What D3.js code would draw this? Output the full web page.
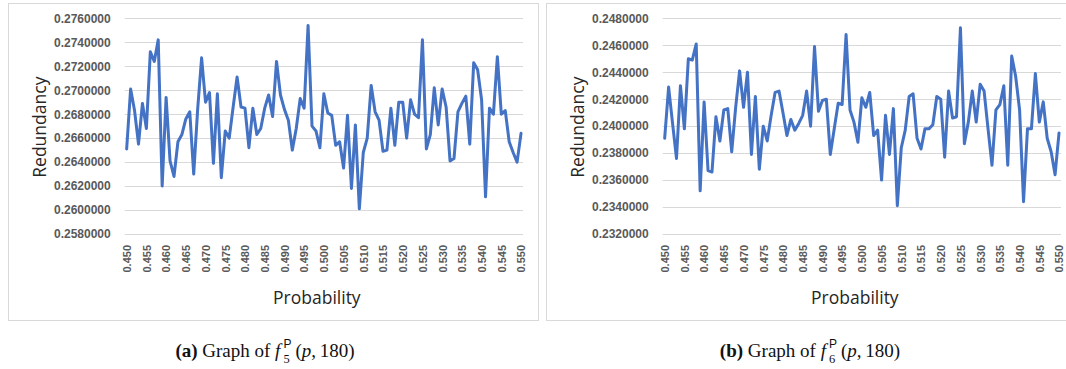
<!DOCTYPE html>
<html>
<head>
<meta charset="utf-8">
<script src="https://cdn.jsdelivr.net/npm/d3@7"></script>
<style>
  html, body { margin: 0; padding: 0; background: #fff; }
  #wrap { position: relative; width: 1066px; height: 369px; overflow: hidden; }
  svg { position: absolute; left: 0; top: 0; }
  .caption {
    position: absolute; top: 340px; width: 400px; text-align: center;
    font-family: "Liberation Serif", "DejaVu Serif", serif; font-size: 19px; line-height: 22px;
    color: #111; white-space: nowrap;
  }
  .caption b { font-weight: bold; }
  .ss { display: inline-block; position: relative; width: 10px; height: 13px; margin-left: 3px; margin-right: 2px; }
  .ss span { position: absolute; left: 0; font-size: 12.5px; line-height: 12px; }
  .ss .p { top: -6px; font-family: "Liberation Sans", "DejaVu Sans", sans-serif; font-size: 12px; }
  .ss .n { top: 9px; }
</style>
</head>
<body>
<div id="wrap">
  <svg id="chart" width="1066" height="369"></svg>
  <div class="caption" style="left:65px"><b>(a)</b> Graph of <i>f</i><span class="ss"><span class="p">P</span><span class="n">5</span></span>(<i>p</i>,&#8201;180)</div>
  <div class="caption" style="left:610px"><b>(b)</b> Graph of <i>f</i><span class="ss"><span class="p">P</span><span class="n">6</span></span>(<i>p</i>,&#8201;180)</div>
</div>
<script>
// Probabilities 0.450 … 0.550 in steps of 0.001
const probabilities = d3.range(101).map(i => (450 + i) / 1000);

// Tick labels shown every 0.005
const xTickLabels = ["0.450","0.455","0.460","0.465","0.470","0.475","0.480","0.485","0.490","0.495",
  "0.500","0.505","0.510","0.515","0.520","0.525","0.530","0.535","0.540","0.545","0.550"];

// Redundancy of f5P(p, 180)
const redundancyF5 = [
  0.2651, 0.2701, 0.2683, 0.2655, 0.2689, 0.2668, 0.2732, 0.2724, 0.2742, 0.2620,
  0.2694, 0.2641, 0.2628, 0.2657, 0.2663, 0.2676, 0.2682, 0.2630, 0.2684, 0.2727,
  0.2690, 0.2698, 0.2639, 0.2697, 0.2627, 0.2666, 0.2660, 0.2686, 0.2711, 0.2686,
  0.2685, 0.2652, 0.2685, 0.2663, 0.2668, 0.2685, 0.2696, 0.2678, 0.2724, 0.2696,
  0.2684, 0.2675, 0.2650, 0.2668, 0.2693, 0.2685, 0.2754, 0.2670, 0.2666, 0.2652,
  0.2697, 0.2681, 0.2679, 0.2654, 0.2657, 0.2635, 0.2679, 0.2618, 0.2671, 0.2601,
  0.2648, 0.2660, 0.2704, 0.2682, 0.2675, 0.2649, 0.2650, 0.2685, 0.2654, 0.2690,
  0.2690, 0.2660, 0.2692, 0.2680, 0.2677, 0.2742, 0.2651, 0.2663, 0.2702, 0.2671,
  0.2701, 0.2686, 0.2641, 0.2643, 0.2682, 0.2689, 0.2695, 0.2655, 0.2723, 0.2717,
  0.2692, 0.2611, 0.2685, 0.2680, 0.2728, 0.2680, 0.2683, 0.2657, 0.2648, 0.2640,
  0.2664
];

// Redundancy of f6P(p, 180)
const redundancyF6 = [
  0.2391, 0.2429, 0.2402, 0.2376, 0.2430, 0.2398, 0.2450, 0.2449, 0.2461, 0.2352,
  0.2418, 0.2367, 0.2366, 0.2407, 0.2389, 0.2412, 0.2413, 0.2381, 0.2414, 0.2441,
  0.2414, 0.2440, 0.2379, 0.2422, 0.2368, 0.2400, 0.2389, 0.2408, 0.2425, 0.2426,
  0.2410, 0.2393, 0.2405, 0.2397, 0.2402, 0.2408, 0.2426, 0.2400, 0.2459, 0.2411,
  0.2419, 0.2420, 0.2379, 0.2398, 0.2417, 0.2416, 0.2468, 0.2412, 0.2403, 0.2388,
  0.2421, 0.2414, 0.2425, 0.2393, 0.2397, 0.2360, 0.2408, 0.2379, 0.2413, 0.2341,
  0.2384, 0.2397, 0.2422, 0.2424, 0.2391, 0.2383, 0.2398, 0.2398, 0.2401, 0.2422,
  0.2420, 0.2377, 0.2426, 0.2406, 0.2407, 0.2473, 0.2387, 0.2403, 0.2426, 0.2403,
  0.2431, 0.2426, 0.2398, 0.2371, 0.2412, 0.2416, 0.2430, 0.2371, 0.2452, 0.2437,
  0.2412, 0.2344, 0.2398, 0.2398, 0.2439, 0.2403, 0.2418, 0.2391, 0.2381, 0.2364,
  0.2395
];

// Y-axis ranges and tick steps
const yDomainF5 = [0.258, 0.276];
const yDomainF6 = [0.232, 0.248];
const yStep = 0.002;

const svg = d3.select("#chart");

function drawPanel(originX, values, yDomain) {
  const panelW = 530, panelH = 317;
  const plotL = originX + 116.7, plotR = originX + 515;
  const plotT = 18.3, plotB = 234;

  const g = svg.append("g");

  // Chart frame
  g.append("rect")
    .attr("x", originX + 0.5).attr("y", 3.5)
    .attr("width", panelW).attr("height", panelH)
    .attr("fill", "#fff").attr("stroke", "#d9d9d9").attr("stroke-width", 1);

  const x = d3.scalePoint().domain(probabilities.map(p => p.toFixed(3)))
    .range([plotL, plotR]).padding(0.5);
  const y = d3.scaleLinear().domain(yDomain).range([plotB, plotT]);

  const yTicks = d3.range(yDomain[0], yDomain[1] + yStep / 2, yStep);

  // Horizontal gridlines
  g.append("g").selectAll("line").data(yTicks).join("line")
    .attr("x1", plotL).attr("x2", plotR)
    .attr("y1", d => Math.round(y(d)) + 0.5).attr("y2", d => Math.round(y(d)) + 0.5)
    .attr("stroke", "#d9d9d9").attr("stroke-width", 1);

  // Y-axis tick labels
  const yAxis = d3.axisLeft(y).tickValues(yTicks).tickFormat(d3.format(".7f"))
    .tickSize(0).tickPadding(14);
  const ya = g.append("g").attr("transform", `translate(${plotL},0)`).call(yAxis);
  ya.select(".domain").remove();
  ya.selectAll("text")
    .attr("fill", "#595959")
    .style("font-family", "'Liberation Sans', Arial, sans-serif")
    .style("font-size", "12px")
    .style("font-weight", "bold");

  // X-axis tick labels (rotated), every fifth category
  const xAxis = d3.axisBottom(x).tickValues(xTickLabels).tickSize(0).tickPadding(0);
  const xa = g.append("g").attr("transform", `translate(0,${plotB})`).call(xAxis);
  xa.select(".domain").remove();
  xa.selectAll("text")
    .attr("transform", "rotate(-90)")
    .attr("text-anchor", "end")
    .attr("x", -11).attr("y", 0).attr("dy", "0.35em")
    .attr("fill", "#595959")
    .style("font-family", "'Liberation Sans', Arial, sans-serif")
    .style("font-size", "11px")
    .style("font-weight", "bold");

  // Data line
  const line = d3.line()
    .x((d, i) => x(probabilities[i].toFixed(3)))
    .y(d => y(d));
  g.append("path").datum(values)
    .attr("d", line)
    .attr("fill", "none")
    .attr("stroke", "#4472c4")
    .attr("stroke-width", 3)
    .attr("stroke-linejoin", "round")
    .attr("stroke-linecap", "round");

  // Axis titles
  g.append("text")
    .attr("transform", `translate(${originX + 32},${(plotT + plotB) / 2 + 1}) rotate(-90)`)
    .attr("text-anchor", "middle").attr("dy", "0.35em")
    .attr("fill", "#262626")
    .style("font-family", "'Open Sans', sans-serif")
    .style("font-size", "17.5px")
    .text("Redundancy");

  g.append("text")
    .attr("x", (plotL + plotR) / 2 - 7).attr("y", 304)
    .attr("text-anchor", "middle")
    .attr("fill", "#262626")
    .style("font-family", "'Open Sans', sans-serif")
    .style("font-size", "17.5px")
    .text("Probability");
}

drawPanel(8, redundancyF5, yDomainF5);
drawPanel(546, redundancyF6, yDomainF6);
</script>
</body>
</html>
